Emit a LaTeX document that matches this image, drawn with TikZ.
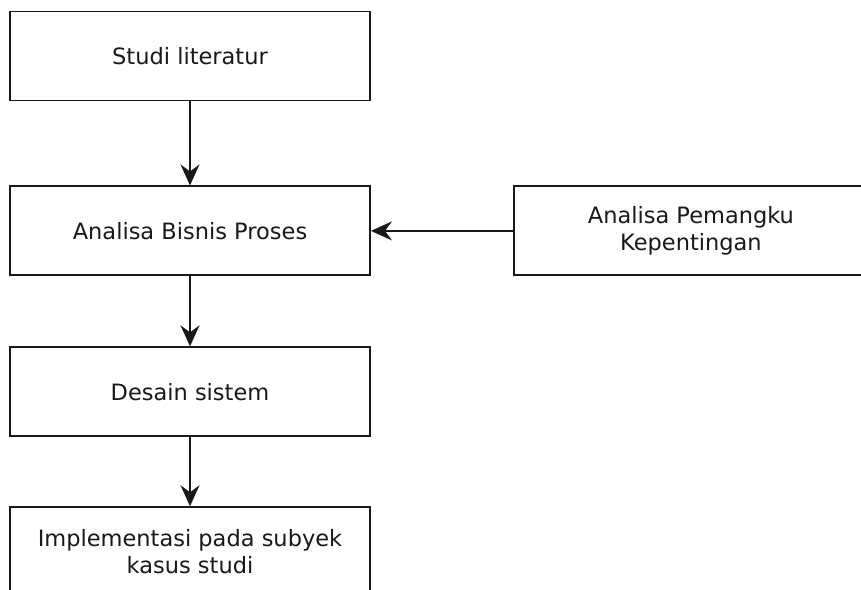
\documentclass[tikz,border=0pt]{standalone}
\usepackage{fontspec}
\setmainfont{DejaVu Sans}
\usepackage{xcolor}
\usetikzlibrary{arrows.meta, positioning}
\definecolor{ink}{RGB}{25,25,25}

\begin{document}
\begin{tikzpicture}[x=1pt, y=-1pt,
      every node/.style={font=\fontsize{22.5}{27}\selectfont, text=ink},
      box/.style={draw=ink, line width=1.9pt, fill=white, align=center,
                  inner sep=4pt, minimum width=360pt, minimum height=89pt},
      ar/.style={-{Stealth[length=21pt, width=19pt, inset=7pt]}, draw=ink, line width=1.9pt}]
    \useasboundingbox (0,0) rectangle (861,589);
    \clip (0,0) rectangle (861,589);
    \node[box] (studi) at (190,56) {Studi literatur};
    \node[box, below=84pt of studi] (bisnis) {Analisa Bisnis Proses};
    \node[box, below=70pt of bisnis] (desain) {Desain sistem};
    \node[box, below=69pt of desain] (impl) {Implementasi pada subyek\\kasus studi};
    \node[box, right=142pt of bisnis, minimum width=354pt] (pemangku) {Analisa Pemangku\\Kepentingan};
    \draw[ar] (studi) -- (bisnis);
    \draw[ar] (bisnis) -- (desain);
    \draw[ar] (desain) -- (impl);
    \draw[ar] (pemangku) -- (bisnis);
  \end{tikzpicture}
\end{document}
